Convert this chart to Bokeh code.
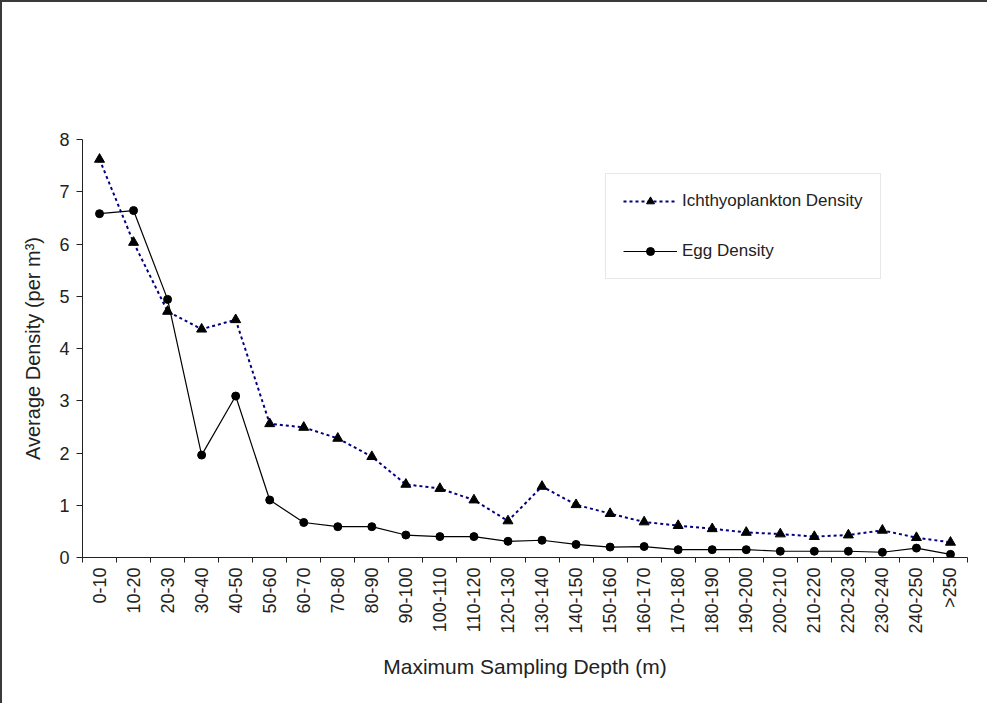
import math
from bokeh.plotting import figure
from bokeh.models import FixedTicker, Range1d, Legend, LegendItem
from bokeh.embed import file_html
from bokeh.resources import INLINE

categories = ["0-10", "10-20", "20-30", "30-40", "40-50", "50-60", "60-70", "70-80",
              "80-90", "90-100", "100-110", "110-120", "120-130", "130-140", "140-150",
              "150-160", "160-170", "170-180", "180-190", "190-200", "200-210",
              "210-220", "220-230", "230-240", "240-250", ">250"]
ichthyo = [7.62, 6.03, 4.71, 4.37, 4.55, 2.56, 2.49, 2.28, 1.93, 1.40, 1.32, 1.10, 0.70,
           1.36, 1.01, 0.84, 0.68, 0.61, 0.55, 0.48, 0.45, 0.40, 0.43, 0.52, 0.38, 0.29]
egg = [6.58, 6.64, 4.94, 1.96, 3.09, 1.10, 0.67, 0.59, 0.59, 0.43, 0.40, 0.40, 0.31,
       0.33, 0.25, 0.20, 0.21, 0.15, 0.15, 0.15, 0.12, 0.12, 0.12, 0.10, 0.18, 0.06]
y_ticks = [0, 1, 2, 3, 4, 5, 6, 7, 8]

FONT = "Liberation Sans"
n = len(categories)
x = [i + 0.5 for i in range(n)]

p = figure(frame_width=885, frame_height=418,
           min_border_left=80, min_border_right=20, min_border_top=137, min_border_bottom=146,
           x_range=Range1d(0, n), y_range=Range1d(0, 8),
           output_backend="svg", toolbar_location=None)
p.styles = {"border-left": "2px solid #3a3a3a", "border-top": "2px solid #3a3a3a"}
p.outline_line_color = None
p.xgrid.visible = False
p.ygrid.visible = False
p.background_fill_color = "white"
p.border_fill_color = "white"

# lines and markers
r1l = p.line(x, ichthyo, line_color="#000080", line_width=2, line_dash="3 3")
r1m = p.scatter(x, ichthyo, marker="triangle", size=10, fill_color="black", line_color="black")
r2l = p.line(x, egg, line_color="black", line_width=1.2)
r2m = p.scatter(x, egg, marker="circle", size=8, fill_color="black", line_color="black")

# x axis
xa = p.xaxis[0]
xa.ticker = FixedTicker(ticks=x, minor_ticks=list(range(n + 1)))
xa.major_label_overrides = {xi: c for xi, c in zip(x, categories)}
xa.major_label_orientation = math.pi / 2
xa.major_tick_line_color = None
xa.major_tick_in = 0
xa.major_tick_out = 5
xa.minor_tick_in = 0
xa.minor_tick_out = 5
xa.minor_tick_line_color = "#222222"
xa.major_label_standoff = 5
xa.major_label_text_font = FONT
xa.major_label_text_font_size = "18px"
xa.major_label_text_color = "#222222"
xa.axis_line_color = "#222222"
xa.axis_label = "Maximum Sampling Depth (m)"
xa.axis_label_text_font = FONT
xa.axis_label_text_font_size = "21px"
xa.axis_label_text_font_style = "normal"
xa.axis_label_text_color = "#222222"
xa.axis_label_standoff = 18

# y axis
ya = p.yaxis[0]
ya.ticker = FixedTicker(ticks=y_ticks)
ya.minor_tick_line_color = None
ya.major_tick_in = 0
ya.major_tick_out = 6
ya.major_tick_line_color = "#222222"
ya.major_label_standoff = 7
ya.major_label_text_font = FONT
ya.major_label_text_font_size = "18px"
ya.major_label_text_color = "#222222"
ya.axis_line_color = "#222222"
ya.axis_label = "Average Density (per m³)"
ya.axis_label_text_font = FONT
ya.axis_label_text_font_size = "20px"
ya.axis_label_text_font_style = "normal"
ya.axis_label_text_color = "#222222"
ya.axis_label_standoff = 12

legend = Legend(items=[LegendItem(label="Ichthyoplankton Density", renderers=[r1l, r1m]),
                       LegendItem(label="Egg Density", renderers=[r2l, r2m])],
                location=(523, 278))
legend.glyph_width = 54
legend.glyph_height = 20
legend.label_height = 20
legend.spacing = 30
legend.padding = 17
legend.margin = 0
legend.label_standoff = 5
legend.label_text_font = FONT
legend.label_text_font_size = "17px"
legend.label_text_color = "#222222"
legend.border_line_color = "#cfcfcf"
legend.border_line_width = 1
legend.background_fill_color = "white"
legend.background_fill_alpha = 1
p.add_layout(legend)

open("out.html", "w").write(file_html(p, INLINE))
